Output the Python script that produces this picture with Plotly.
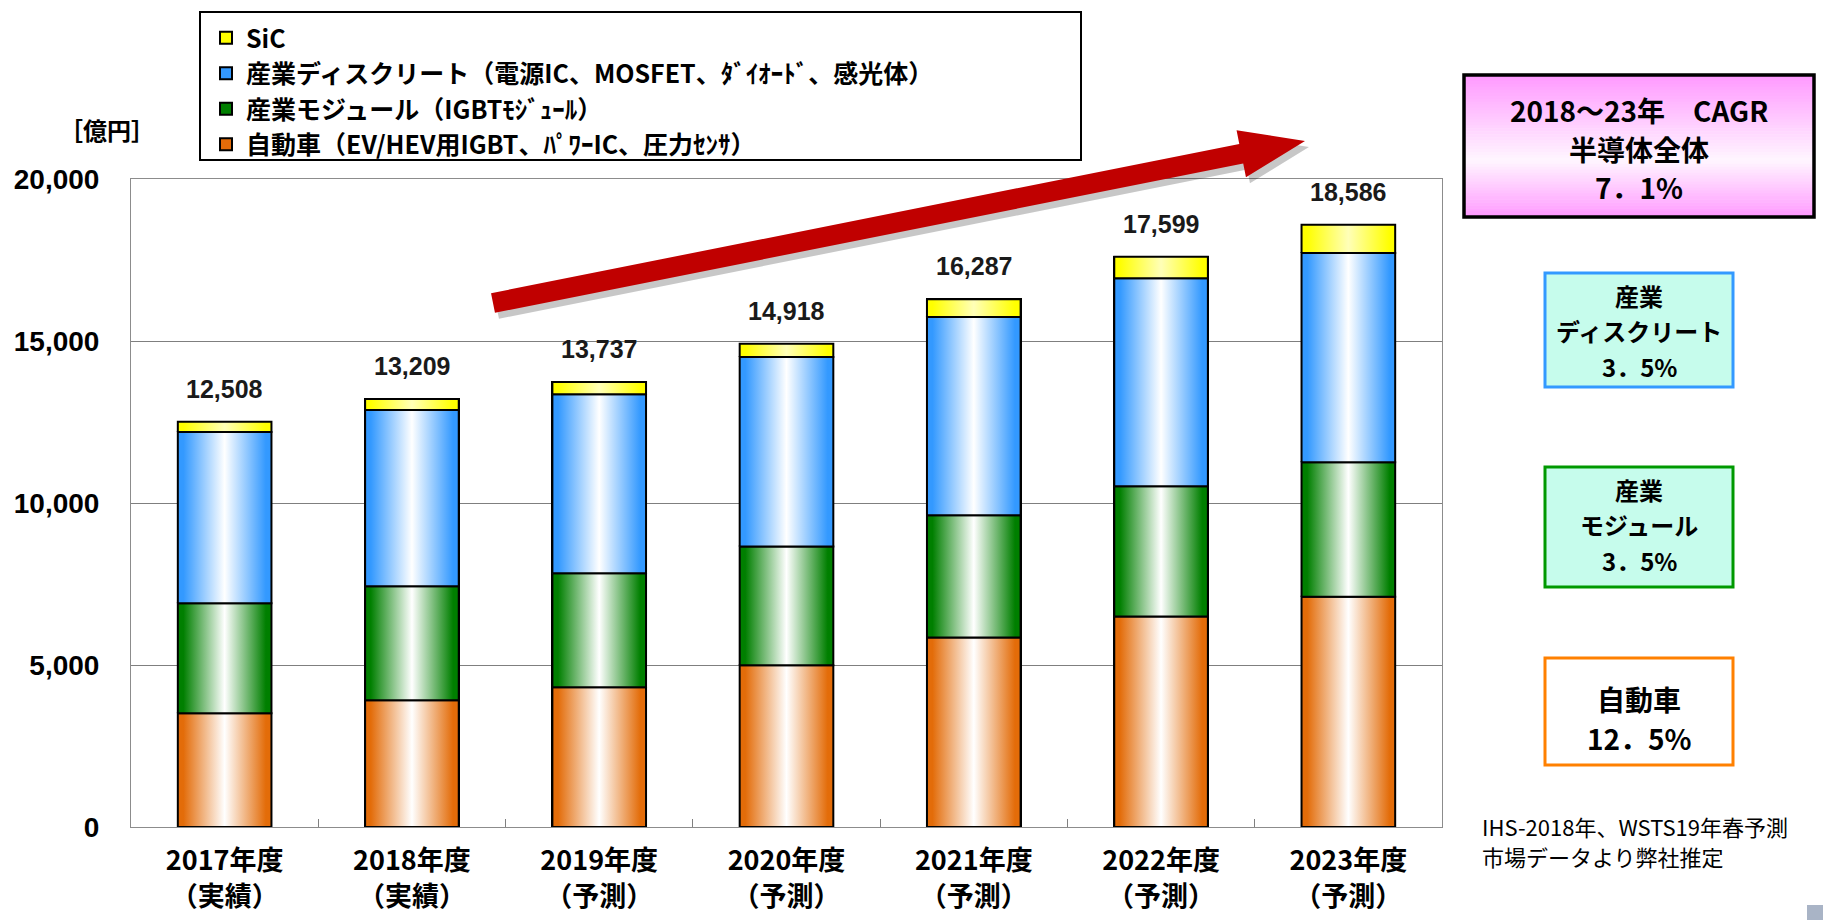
import plotly.graph_objects as go

# ---------------- data ----------------
years = ["2017年度", "2018年度", "2019年度", "2020年度", "2021年度", "2022年度", "2023年度"]
status = ["（実績）", "（実績）", "（予測）", "（予測）", "（予測）", "（予測）", "（予測）"]
auto = [3510, 3910, 4310, 4990, 5850, 6500, 7110]          # 自動車
module = [3395, 3520, 3520, 3665, 3775, 4020, 4150]        # 産業モジュール
discrete = [5285, 5440, 5530, 5850, 6115, 6420, 6455]      # 産業ディスクリート
sic = [318, 339, 377, 413, 547, 659, 871]                  # SiC
series_names = ["自動車（EV/HEV用IGBT、ﾊﾟﾜｰIC、圧力ｾﾝｻ）",
                "産業モジュール（IGBTﾓｼﾞｭｰﾙ）",
                "産業ディスクリート（電源IC、MOSFET、ﾀﾞｲｵｰﾄﾞ、感光体）",
                "SiC"]
y_ticks = [0, 5000, 10000, 15000, 20000]
unit_label = "［億円］"
cagr_total = ["2018～23年　CAGR", "半導体全体", "7．1%"]
cagr_discrete = ["産業", "ディスクリート", "3．5%"]
cagr_module = ["産業", "モジュール", "3．5%"]
cagr_auto = ["自動車", "12．5%"]
source_note = ["IHS-2018年、WSTS19年春予測", "市場データより弊社推定"]

# ---------------- styles ----------------
W, H = 1823, 920
L, R, T, B = 131, 1442, 179, 827
PW, PH = R - L, B - T
JP = "Noto Sans CJK JP"
colors = ["#e36c09", "#007f00", "#3399ff", "#ffff00"]
centers = ["#ffffff", "#ffffff", "#ffffff", "#ffffb8"]
BAR_W = 0.5


def px(x):
    return (x - L) / PW


def py(y):
    return (B - y) / PH


fig = go.Figure()
series = [auto, module, discrete, sic]
idx = list(range(len(years)))

# real stacked bars (data + legend)
for name, vals, c in zip(series_names, series, colors):
    fig.add_trace(go.Bar(
        x=idx, y=vals, name=name, width=BAR_W,
        marker=dict(color=c, line=dict(color="black", width=2)),
        hoverinfo="name+y",
    ))

# gradient shading on each segment (cylinder look), from same data
base = [0] * len(years)
for vals, c, cc in zip(series, colors, centers):
    cs = [[0, c], [0.06, c], [0.5, cc], [0.94, c], [1, c]]
    for i, v in enumerate(vals):
        b0, b1 = base[i], base[i] + v
        x0, x1 = i - BAR_W / 2, i + BAR_W / 2
        fig.add_trace(go.Scatter(
            x=[x0, x1, x1, x0, x0], y=[b0, b0, b1, b1, b0],
            mode="lines", fill="toself",
            fillgradient=dict(type="horizontal", colorscale=cs),
            line=dict(color="black", width=2),
            showlegend=False, hoverinfo="skip",
        ))
        base[i] = b1

totals = base
for i, t in enumerate(totals):
    fig.add_annotation(x=i, y=t, xref="x", yref="y", text=f"{t:,}", showarrow=False,
                       yshift=33, font=dict(family="Liberation Sans", size=25, color="#1a1a1a", weight=700))

shapes = []

# legend frame
shapes.append(dict(type="rect", xref="paper", yref="paper",
                   x0=px(200), x1=px(1081), y0=py(160), y1=py(12),
                   line=dict(color="black", width=2), fillcolor="rgba(0,0,0,0)"))

# big red arrow
tail = (493, 303)
tip = (1305, 141)
dx, dy = tip[0] - tail[0], tip[1] - tail[1]
ln = (dx * dx + dy * dy) ** 0.5
ux, uy = dx / ln, dy / ln
nx, ny = -uy, ux
hw, hh, hl = 10, 24, 65
bx, by = tip[0] - hl * ux, tip[1] - hl * uy
pts = [(tail[0] + hw * nx, tail[1] + hw * ny), (bx + hw * nx, by + hw * ny),
       (bx + hh * nx, by + hh * ny), tip, (bx - hh * nx, by - hh * ny),
       (bx - hw * nx, by - hw * ny), (tail[0] - hw * nx, tail[1] - hw * ny)]


def path(points, ox=0, oy=0):
    s = "M " + " L ".join(f"{px(p[0] + ox):.5f},{py(p[1] + oy):.5f}" for p in points) + " Z"
    return s


shapes.append(dict(type="path", xref="paper", yref="paper", path=path(pts, 4, 6),
                   fillcolor="rgba(0,0,0,0.22)", line=dict(width=0)))
shapes.append(dict(type="path", xref="paper", yref="paper", path=path(pts),
                   fillcolor="#c00000", line=dict(width=0)))

# pink CAGR box with vertical gradient (bands)
bx0, bx1, by0, by1 = 1464, 1814, 75, 217
n_bands = 48


def lerp(c1, c2, t):
    return tuple(int(round(a + (b - a) * t)) for a, b in zip(c1, c2))


pink, light = (255, 153, 255), (255, 246, 255)
for k in range(n_bands):
    t = (k + 0.5) / n_bands
    if t < 0.6:
        col = lerp(pink, light, t / 0.6)
    else:
        col = lerp(light, pink, (t - 0.6) / 0.4)
    y0 = by0 + (by1 - by0) * k / n_bands
    y1 = by0 + (by1 - by0) * (k + 1) / n_bands
    shapes.append(dict(type="rect", xref="paper", yref="paper",
                       x0=px(bx0), x1=px(bx1), y0=py(y1 + 0.6), y1=py(y0),
                       fillcolor=f"rgb{col}", line=dict(width=0)))
shapes.append(dict(type="rect", xref="paper", yref="paper",
                   x0=px(bx0), x1=px(bx1), y0=py(by1), y1=py(by0),
                   line=dict(color="black", width=3.5), fillcolor="rgba(0,0,0,0)"))

# small CAGR boxes
boxes = [((1545, 1733, 273, 387), "#3399ff", "#c6fcec"),
         ((1545, 1733, 467, 587), "#009900", "#c6fcec"),
         ((1545, 1733, 658, 765), "#ff8000", "#ffffff")]
for (x0, x1, y0, y1), lc, fc in boxes:
    shapes.append(dict(type="rect", xref="paper", yref="paper",
                       x0=px(x0), x1=px(x1), y0=py(y1), y1=py(y0),
                       line=dict(color=lc, width=3), fillcolor=fc))

# small grey corner square
shapes.append(dict(type="rect", xref="paper", yref="paper",
                   x0=px(1807), x1=px(1823), y0=py(920), y1=py(905),
                   line=dict(width=0), fillcolor="#a9b4c6"))


def add_lines(lines, ys, size, xc=1639, weight=700, anchor="center", xpos=None):
    for txt, yy in zip(lines, ys):
        fig.add_annotation(x=px(xpos if xpos is not None else xc), y=py(yy), xref="paper", yref="paper",
                           text=txt, showarrow=False, xanchor=anchor, yanchor="middle",
                           font=dict(family=JP, size=size, color="black", weight=weight))


add_lines(cagr_total, [110, 149, 187], 28)
add_lines(cagr_discrete, [295, 330, 366], 24)
add_lines(cagr_module, [489, 524, 560], 24)
add_lines(cagr_auto, [699, 738], 28)
add_lines(source_note, [826, 856], 22, weight=400, anchor="left", xpos=1480)

fig.add_annotation(x=px(107), y=py(129), xref="paper", yref="paper", text=unit_label,
                   showarrow=False, xanchor="center", yanchor="middle",
                   font=dict(family=JP, size=24, color="black", weight=700))

fig.update_layout(
    width=W, height=H,
    margin=dict(l=L, r=W - R, t=T, b=H - B, autoexpand=False),
    barmode="stack",
    paper_bgcolor="white", plot_bgcolor="white",
    shapes=shapes,
    showlegend=True,
    legend=dict(xref="container", yref="container", x=206 / W, y=1 - 15 / H,
                xanchor="left", yanchor="top", traceorder="reversed",
                bgcolor="rgba(0,0,0,0)", borderwidth=0,
                font=dict(family=JP, size=25, color="black", weight=700)),
    xaxis=dict(range=[-0.5, len(years) - 0.5], tickmode="array", tickvals=idx,
               ticktext=[f"{a}<br>{b}" for a, b in zip(years, status)],
               showline=True, linecolor="#8c8c8c", linewidth=1, mirror=True,
               showgrid=False, zeroline=False, ticks="", ticklabelstandoff=10,
               tickfont=dict(family=JP, size=27, color="black", weight=700),
               minor=dict(tickmode="array", tickvals=[i + 0.5 for i in idx[:-1]],
                          ticks="inside", ticklen=8, tickcolor="#808080", showgrid=False)),
    yaxis=dict(range=[0, 20000], tickmode="array", tickvals=y_ticks, tickformat=",d",
               showline=True, linecolor="#8c8c8c", linewidth=1, mirror=True,
               showgrid=True, gridcolor="#7f7f7f", gridwidth=1, zeroline=False,
               ticks="", ticklabelstandoff=25,
               tickfont=dict(family="Liberation Sans", size=28, color="black", weight=700)),
)

fig.write_html("out.html", config={"displayModeBar": False},
               post_script="document.body.style.margin='0';document.body.style.overflow='hidden';")
